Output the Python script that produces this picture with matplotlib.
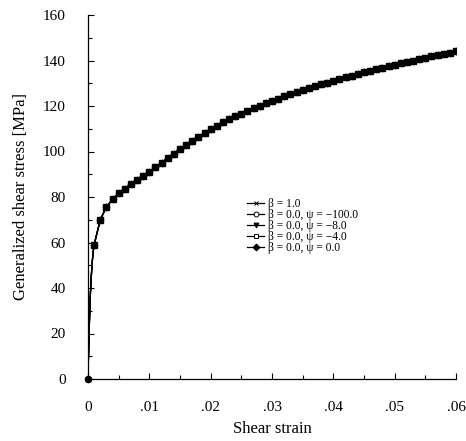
import numpy as np
import matplotlib
matplotlib.use("Agg")
import matplotlib.pyplot as plt

plt.rcParams['font.family'] = ['Liberation Serif', 'DejaVu Serif']

# elastic rise near the origin
strain_elastic = [0.0, 0.0001, 0.0002, 0.0003, 0.0004, 0.0006, 0.0008]
stress_elastic = [0.0, 12.0, 22.0, 31.0, 38.0, 48.0, 55.0]

# marked points, every 0.001 strain
strain_marked = [
    0.001, 0.002, 0.003, 0.004, 0.005, 0.006, 0.007, 0.008, 0.009, 0.010,
    0.011, 0.012, 0.013, 0.014, 0.015, 0.016, 0.017, 0.018, 0.019, 0.020,
    0.021, 0.022, 0.023, 0.024, 0.025, 0.026, 0.027, 0.028, 0.029, 0.030,
    0.031, 0.032, 0.033, 0.034, 0.035, 0.036, 0.037, 0.038, 0.039, 0.040,
    0.041, 0.042, 0.043, 0.044, 0.045, 0.046, 0.047, 0.048, 0.049, 0.050,
    0.051, 0.052, 0.053, 0.054, 0.055, 0.056, 0.057, 0.058, 0.059, 0.060,
]
stress_marked = [
    59.0, 70.0, 75.6, 79.0, 81.6, 83.7, 85.7, 87.5, 89.2, 90.8,
    93.0, 95.1, 97.1, 99.1, 101.0, 102.9, 104.7, 106.5, 108.2, 109.9,
    111.4, 112.8, 114.1, 115.4, 116.7, 117.9, 119.0, 120.1, 121.2, 122.2,
    123.2, 124.2, 125.1, 126.0, 126.9, 127.8, 128.7, 129.5, 130.3, 131.1,
    131.9, 132.7, 133.4, 134.1, 134.8, 135.5, 136.2, 136.9, 137.5, 138.2,
    138.8, 139.4, 140.0, 140.6, 141.2, 141.8, 142.4, 142.9, 143.5, 144.0,
]

labels = ['β = 1.0',
          'β = 0.0, ψ = −100.0',
          'β = 0.0, ψ = −8.0',
          'β = 0.0, ψ = −4.0',
          'β = 0.0, ψ = 0.0']
markers = ['x', 'o', 'v', 's', 'D']
fills = ['black', 'white', 'black', 'white', 'black']

x = np.array(strain_elastic + strain_marked)
y = np.array(stress_elastic + stress_marked)
n_el = len(strain_elastic)

fig = plt.figure(figsize=(4.66, 4.41), dpi=100)
ax = fig.add_axes([88 / 466, 62 / 441, 368 / 466, 364 / 441])

for lab, mk, fc in zip(labels, markers, fills):
    ax.plot(x, y, color='black', lw=0.9, label=lab,
            marker=mk, markersize=3.5, markerfacecolor=fc,
            markeredgecolor='black', markeredgewidth=0.7,
            markevery=list(range(n_el, len(x))))

# top layer: filled squares seen on the curve
ax.plot(x[n_el:], y[n_el:], ls='none', marker='s', markersize=4.0,
        color='black')
ax.plot([0], [0], ls='none', marker='o', markersize=4.5, color='black',
        clip_on=False)

ax.set_xlim(0, 0.06)
ax.set_ylim(0, 160)
ax.set_xticks([0, 0.01, 0.02, 0.03, 0.04, 0.05, 0.06])
ax.set_xticklabels(['0', '.01', '.02', '.03', '.04', '.05', '.06'])
ax.set_xticks(np.arange(0.005, 0.06, 0.01), minor=True)
ax.set_yticks(np.arange(0, 161, 20))
ax.set_yticks(np.arange(10, 160, 20), minor=True)
ax.tick_params(direction='in', length=4, width=0.8, labelsize=11)
ax.tick_params(which='minor', direction='in', length=3, width=0.8)
ax.tick_params(axis='x', pad=16)
ax.tick_params(axis='y', pad=16)

for side in ['top', 'right']:
    ax.spines[side].set_visible(False)
for side in ['left', 'bottom']:
    ax.spines[side].set_linewidth(0.9)

ax.set_xlabel('Shear strain', fontsize=12, labelpad=5)
ax.set_ylabel('Generalized shear stress [MPa]', fontsize=12, labelpad=10)

ax.legend(loc='upper left', bbox_to_anchor=(0.42, 0.51), frameon=False,
          fontsize=8.3, handlelength=1.5, handletextpad=0.3,
          labelspacing=-0.08, borderaxespad=0)

fig.savefig('out.png', dpi=100)
